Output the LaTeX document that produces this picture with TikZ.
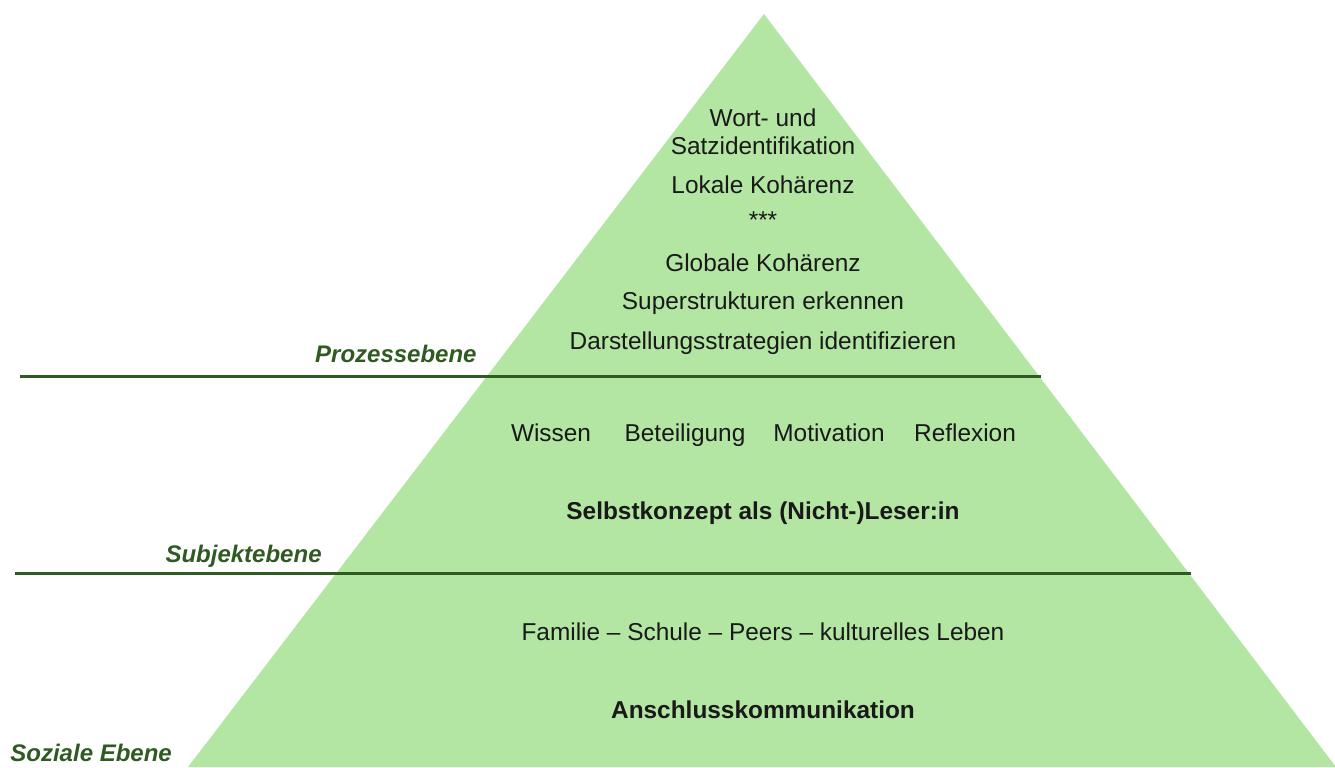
\documentclass[tikz,border=0pt]{standalone}
\usepackage{fontspec}
\setmainfont{Liberation Sans}
\usepackage{xcolor}
\usetikzlibrary{positioning}
\definecolor{pyrgreen}{HTML}{B3E5A3}
\definecolor{darkline}{HTML}{2F5A22}

\begin{document}
\begin{tikzpicture}[
    x=0.5pt, y=-0.5pt,
    item/.style={font=\fontsize{12.2}{14}\selectfont, inner sep=0pt, anchor=base, text=black!90},
    key/.style={item, font=\fontsize{12.2}{14}\selectfont\bfseries},
    level/.style={font=\fontsize{12}{14}\selectfont\bfseries\itshape, text=darkline, inner sep=0pt},
    rule/.style={draw=darkline, line width=1.5pt},
]
\useasboundingbox (0,0) rectangle (1335,767);
\fill[pyrgreen] (764,14) -- (1336,767) -- (188,767) -- cycle;

% separating lines
\draw[rule] (20,376) -- (1041,376);
\draw[rule] (15,573) -- (1191,573);

% process level
\node[item] (wort) at (763,126) {Wort- und};
\node[item] (satz) at (763,154) {Satzidentifikation};
\node[item] (lokal) at (763,193) {Lokale Kohärenz};
\node[item, anchor=center] (stars) at (763,220) {***};
\node[item] (global) at (763,271) {Globale Kohärenz};
\node[item] (super) at (763,309) {Superstrukturen erkennen};
\node[item] (darst) at (763,349) {Darstellungsstrategien identifizieren};

% subject level
\node[item] (wissen) at (551,441) {Wissen};
\node[item] (beteil) at (685,441) {Beteiligung};
\node[item] (motiv) at (829,441) {Motivation};
\node[item] (reflex) at (965,441) {Reflexion};
\node[key] (selbst) at (763,519) {Selbstkonzept als (Nicht-)Leser:in};

% social level
\node[item] (familie) at (763,640) {Familie -- Schule -- Peers -- kulturelles Leben};
\node[key] (anschluss) at (763,718) {Anschlusskommunikation};

% level labels
\node[level, anchor=base east] (prozess) at (477,362) {Prozessebene};
\node[level, anchor=base east] (subjekt) at (322,562) {Subjektebene};
\node[level, anchor=base west] (sozial) at (10,761) {Soziale Ebene};
\end{tikzpicture}
\end{document}
